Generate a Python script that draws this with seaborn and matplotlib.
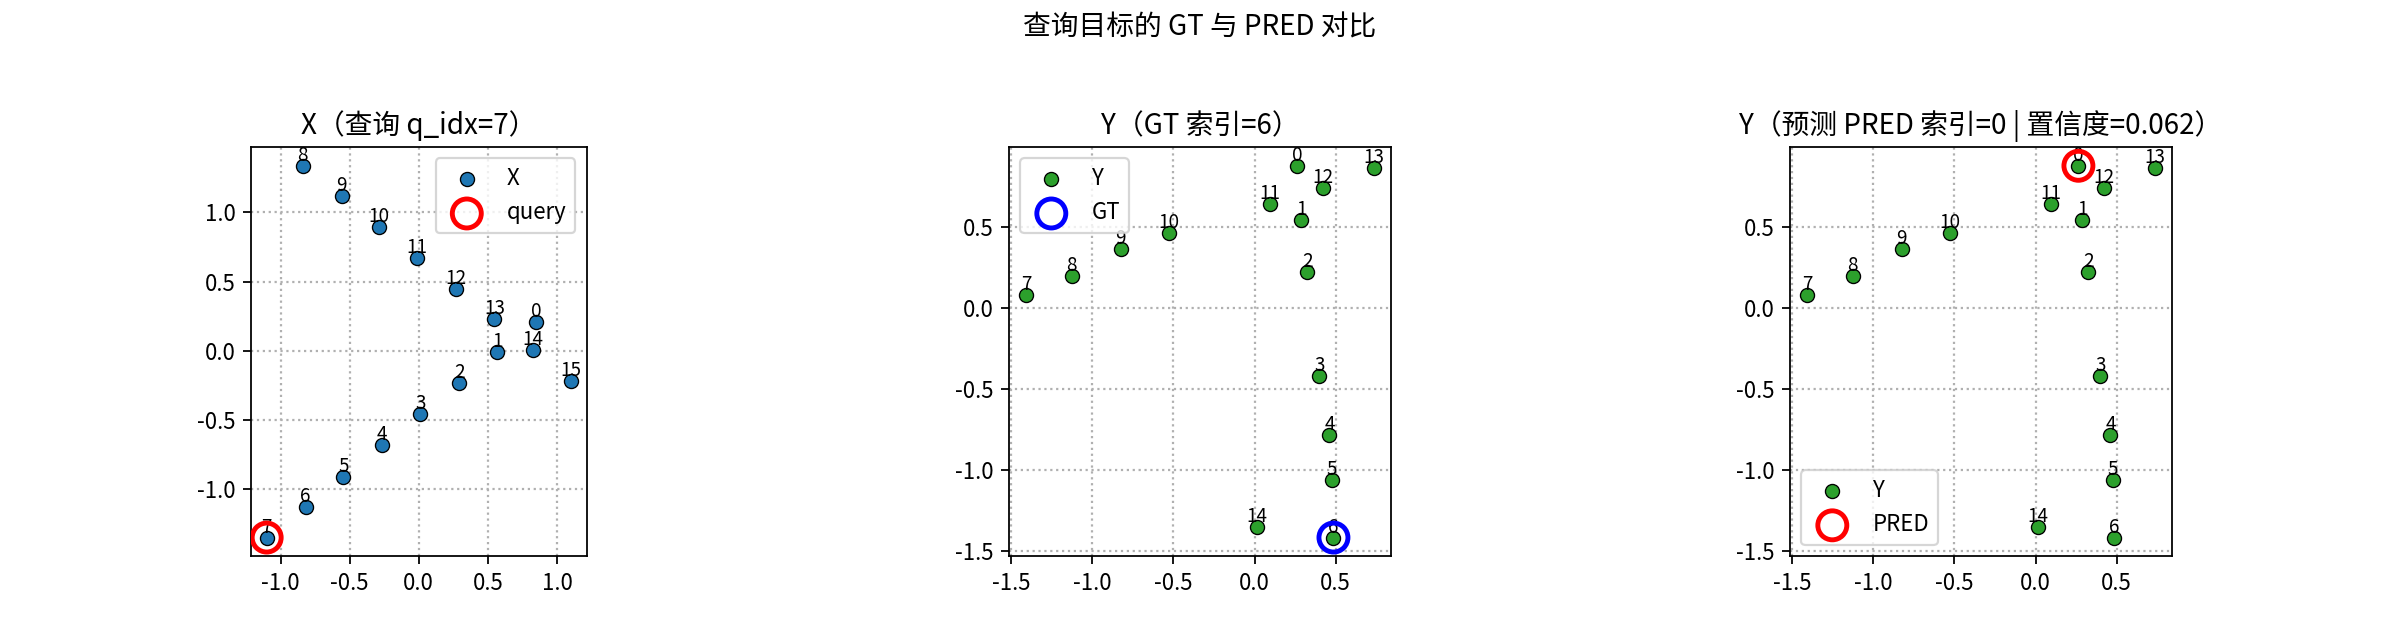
import matplotlib
matplotlib.use("Agg")
import matplotlib.pyplot as plt
import seaborn as sns

# ---- data ----
x_ids = list(range(16))
X_x = [0.848, 0.569, 0.294, 0.012, -0.265, -0.545, -0.819, -1.101,
       -0.841, -0.559, -0.287, -0.012, 0.272, 0.547, 0.829, 1.104]
X_y = [0.205, -0.007, -0.234, -0.459, -0.684, -0.913, -1.130, -1.353,
       1.338, 1.118, 0.894, 0.669, 0.444, 0.227, 0.005, -0.220]

y_ids = list(range(15))
Y_x = [0.264, 0.288, 0.325, 0.400, 0.461, 0.474, 0.486, -1.405,
       -1.127, -0.824, -0.527, 0.097, 0.424, 0.733, 0.014]
Y_y = [0.874, 0.539, 0.218, -0.418, -0.786, -1.060, -1.416, 0.076,
       0.195, 0.360, 0.459, 0.640, 0.737, 0.862, -1.348]

q_idx = 7
gt_idx = 6
pred_idx = 0
confidence = 0.062

suptitle = "查询目标的 GT 与 PRED 对比"
titles = [f"X（查询 q_idx={q_idx}）",
          f"Y（GT 索引={gt_idx}）",
          f"Y（预测 PRED 索引={pred_idx} | 置信度={confidence:.3f}）"]

# ---- style ----
plt.rcParams['font.family'] = ['Noto Sans CJK SC', 'DejaVu Sans']
plt.rcParams['axes.unicode_minus'] = False
FS = 10

fig, axes = plt.subplots(1, 3, figsize=(15, 4), dpi=160)
fig.subplots_adjust(left=0.04, right=0.96, bottom=0.131, top=0.770, wspace=0.209)

panels = [
    (X_x, X_y, x_ids, "#1f77b4", "X", q_idx, "red", "query", "upper right"),
    (Y_x, Y_y, y_ids, "#2ca02c", "Y", gt_idx, "blue", "GT", "upper left"),
    (Y_x, Y_y, y_ids, "#2ca02c", "Y", pred_idx, "red", "PRED", "lower left"),
]

for ax, (xs, ys, ids, col, lab, hi, rc, rlab, loc), title in zip(axes, panels, titles):
    sns.scatterplot(x=xs, y=ys, ax=ax, color=col, s=40, edgecolor="black",
                    linewidth=0.6, label=lab, zorder=3)
    for i, xv, yv in zip(ids, xs, ys):
        ax.text(xv, yv, str(i), fontsize=8.5, ha="center", va="bottom", zorder=4)
    sns.scatterplot(x=[xs[hi]], y=[ys[hi]], ax=ax, s=170, facecolor="none",
                    edgecolor=rc, linewidth=2.2, label=rlab, zorder=5)
    ax.grid(True, linestyle=":", color="#b0b0b0", linewidth=1.0)
    ax.set_axisbelow(True)
    ax.set_aspect("equal", adjustable="box")
    ax.set_title(title, fontsize=12.5)
    ax.tick_params(labelsize=FS)
    ax.legend(loc=loc, fontsize=FS)

fig.suptitle(suptitle, fontsize=12.5)
fig.savefig("out.png", dpi=160)
